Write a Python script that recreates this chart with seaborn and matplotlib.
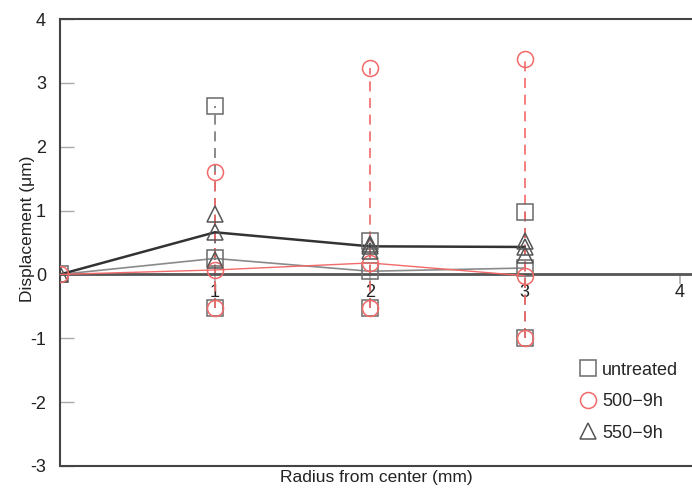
import numpy as np
import pandas as pd
import matplotlib
matplotlib.use('Agg')
import matplotlib.pyplot as plt
from matplotlib.lines import Line2D
import seaborn as sns

# data
radius = [0, 1, 2, 3]
untreated_mean = [0, 0.25, 0.05, 0.10]
untreated_max = [0, 2.63, 0.52, 0.98]
untreated_min = [0, -0.52, -0.52, -1.00]
h500_mean = [0, 0.07, 0.18, -0.02]
h500_max = [0, 1.60, 3.23, 3.38]
h500_min = [0, -0.52, -0.52, -1.00]
h550_mean = [0, 0.66, 0.44, 0.43]
h550_max = [0, 0.95, 0.48, 0.53]
h550_min = [0, 0.22, 0.36, 0.30]
labels = ['untreated', '500\u22129h', '550\u22129h']

sns.set_style('white')
plt.rcParams['font.family'] = ['Liberation Sans', 'DejaVu Sans']

fig = plt.figure(figsize=(6.92, 4.88), dpi=100)
ax = fig.add_axes([60/692, 1 - 466/488, 632/692, 447/488])

series = [
    (untreated_mean, untreated_max, untreated_min, 's', '#6a6a6a', '#8a8a8a', 1.2, '#777777'),
    (h550_mean, h550_max, h550_min, '^', '#555555', '#333333', 1.8, '#555555'),
    (h500_mean, h500_max, h500_min, 'o', '#f26a6a', '#f26a6a', 1.0, '#f26a6a'),
]

ms = 11.5
for mean, hi, lo, mk, mc, lc, lw, dc in series:
    df = pd.DataFrame({'r': radius, 'mean': mean, 'hi': hi, 'lo': lo})
    ax.vlines(df['r'][1:], df['lo'][1:], df['hi'][1:], colors=dc,
              linestyles=(0, (6, 4)), linewidth=1.2, zorder=2)
    sns.lineplot(data=df, x='r', y='mean', ax=ax, color=lc, linewidth=lw,
                 marker=mk, markersize=ms, markerfacecolor='none',
                 markeredgecolor=mc, markeredgewidth=1.1, zorder=3)
    for col in ['hi', 'lo']:
        ax.plot(df['r'][1:], df[col][1:], linestyle='none', marker=mk,
                markersize=ms, markerfacecolor='none', markeredgecolor=mc,
                markeredgewidth=1.1, zorder=4)

ax.set_xlim(0, 4.08)
ax.set_ylim(-3, 4)

# x axis drawn through zero
ax.spines['bottom'].set_position(('data', 0))
ax.spines['bottom'].set_color('#555555')
ax.spines['bottom'].set_linewidth(2)
ax.spines['right'].set_visible(False)
for s in ['left', 'top']:
    ax.spines[s].set_color('#444444')
    ax.spines[s].set_linewidth(1.5)
ax.axhline(-3, color='#444444', linewidth=1.5, clip_on=False, zorder=1)

ax.set_xticks([1, 2, 3, 4])
ax.set_yticks(range(-3, 5))
ax.tick_params(axis='x', bottom=True, direction='out', length=7, width=1.2,
               color='#aaaaaa', labelsize=13, pad=0, labelcolor='#222222')
ax.tick_params(axis='y', left=True, direction='in', length=10, width=1,
               color='#aaaaaa', labelsize=13, pad=10, labelcolor='#222222')
ax.set_yticklabels([str(v) for v in range(-3, 5)])

ax.set_xlabel('Radius from center (mm)', fontsize=12.5, color='#222222')
ax.xaxis.set_label_coords(0.5, -0.008)
ax.set_ylabel('Displacement (\u03bcm)', fontsize=12.5, color='#222222')
ax.yaxis.set_label_coords(-0.04, 0.53)

handles = [
    Line2D([], [], linestyle='none', marker='s', markersize=ms, markerfacecolor='none',
           markeredgecolor='#6a6a6a', markeredgewidth=1.1),
    Line2D([], [], linestyle='none', marker='o', markersize=ms, markerfacecolor='none',
           markeredgecolor='#f26a6a', markeredgewidth=1.1),
    Line2D([], [], linestyle='none', marker='^', markersize=ms, markerfacecolor='none',
           markeredgecolor='#555555', markeredgewidth=1.1),
]
ax.legend(handles, labels, loc='lower left', bbox_to_anchor=(0.795, 0.018),
          frameon=False, fontsize=13, handletextpad=0.3, labelspacing=0.8,
          handlelength=1.0)

fig.savefig('out.png', dpi=100)
